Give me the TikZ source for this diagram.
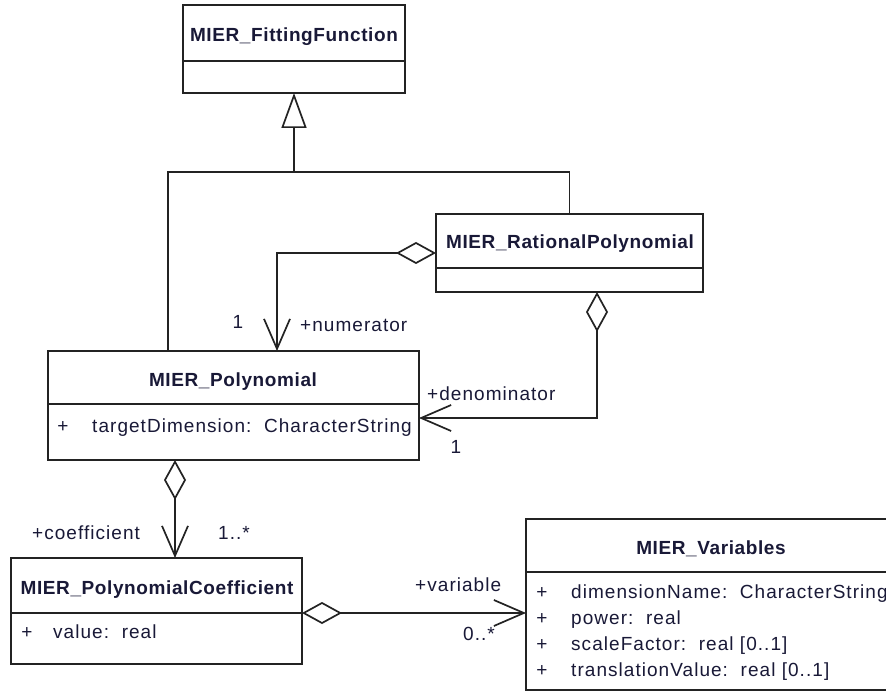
\documentclass[tikz,border=0pt]{standalone}
\usepackage{fontspec}
\setmainfont{Liberation Sans}
\usetikzlibrary{arrows.meta,calc}
\definecolor{linec}{RGB}{35,35,35}
\definecolor{textc}{RGB}{25,25,55}
\newfontfamily\regf[LetterSpace=5.5]{Liberation Sans}
\newfontfamily\boldf[LetterSpace=3.2]{Liberation Sans Bold}
\begin{document}
\begin{tikzpicture}[x=1pt,y=-1pt,
  cls/.style={draw=linec,line width=1.7pt,rectangle,inner sep=0pt,outer sep=0pt,anchor=north west},
  divl/.style={draw=linec,line width=1.7pt},
  conn/.style={draw=linec,line width=1.7pt},
  title/.style={inner sep=0pt,text=textc,font=\boldf\fontsize{19}{22}\selectfont,text height=14pt,text depth=4pt},
  lbl/.style={inner sep=0pt,text=textc,font=\regf\fontsize{19}{22}\selectfont,text height=14pt,text depth=4pt},
  agg/.style={conn,{Diamond[open,length=40pt,width=22pt]}-{Straight Barb[length=30pt,width=26pt]}},
  gen/.style={conn,-{Triangle[open,length=35pt,width=25pt]}}
]
\useasboundingbox (0,0) rectangle (886,692);
\fill[white] (0,0) rectangle (886,692);
\clip (0,0) rectangle (886,692);

% classes
\node[cls,minimum width=222pt,minimum height=88pt] (ff) at (183,5) {};
\draw[divl] (183,61) -- (405,61);
\node[title] (fft) at (294,37) {MIER\_FittingFunction};

\node[cls,minimum width=267pt,minimum height=78pt] (rp) at (436,214) {};
\draw[divl] (436,268) -- (703,268);
\node[title] (rpt) at (570,244) {MIER\_RationalPolynomial};

\node[cls,minimum width=371pt,minimum height=109pt] (poly) at (48,351) {};
\draw[divl] (48,404) -- (419,404);
\node[title] (polyt) at (233,382) {MIER\_Polynomial};
\node[lbl] (polyp) at (63,427) {+};
\node[lbl,anchor=west] (polya) at (92,427) {targetDimension:\ \ CharacterString};

\node[cls,minimum width=291pt,minimum height=106pt] (coef) at (11,558) {};
\draw[divl] (11,613) -- (302,613);
\node[title] (coeft) at (157,589) {MIER\_PolynomialCoefficient};
\node[lbl] (coefp) at (27,633) {+};
\node[lbl,anchor=west] (coefa) at (53,633) {value:\ \ real};

\node[cls,minimum width=380pt,minimum height=171pt] (var) at (526,519) {};
\draw[divl] (526,572) -- (906,572);
\node[title] (vart) at (711,549) {MIER\_Variables};
\foreach \yy/\tt [count=\i] in {593/{dimensionName:\ \ CharacterString},619/{power:\ \ real},645/{scaleFactor:\ \ real [0..1]},671/{translationValue:\ \ real [0..1]}}{
  \node[lbl] (varp\i) at (542,\yy) {+};
  \node[lbl,anchor=west] (vara\i) at (571,\yy) {\tt};
}

% generalization
\coordinate (gj) at ($(ff.south)+(0,79)$);
\draw[gen] (gj) -- (ff.south);
\draw[conn] ($(poly.north west)+(120,0)$) |- (gj) -| (rp.north);

% numerator
\coordinate (numend) at ($(poly.north west)+(229,0)$);
\draw[agg] (rp.west) -| (numend);

% denominator
\coordinate (rpd) at ($(rp.south west)+(161,0)$);
\coordinate (denend) at ($(poly.north east)+(0,67)$);
\draw[agg] (rpd) |- (denend);

% coefficient
\coordinate (polyc) at ($(poly.south west)+(127,0)$);
\coordinate (coefend) at (polyc |- coef.north);
\draw[agg] (polyc) -- (coefend);

% variable
\coordinate (coefv) at (coef.east |- 0,613);
\coordinate (varend) at (var.west |- coefv);
\draw[agg] (coefv) -- (varend);

% role labels and multiplicities
\node[lbl] (m1) at (238,324) {1};
\node[lbl,anchor=west] (rnum) at (300,327) {+numerator};
\node[lbl,anchor=west] (rden) at (427,395) {+denominator};
\node[lbl] (m2) at (456,448) {1};
\node[lbl,anchor=west] (rcoef) at (32,534) {+coefficient};
\node[lbl,anchor=west] (m3) at (218,534) {1..*};
\node[lbl,anchor=west] (rvar) at (415,586) {+variable};
\node[lbl,anchor=west] (m4) at (463,635) {0..*};
\end{tikzpicture}
\end{document}
